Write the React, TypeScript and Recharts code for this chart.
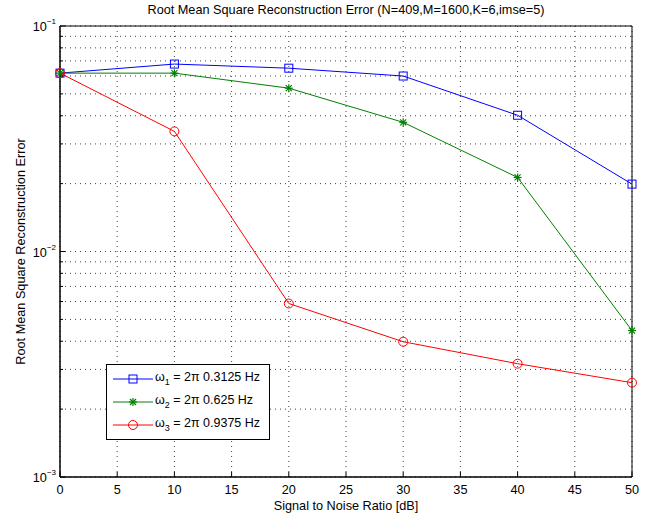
import { LineChart, Line, XAxis, YAxis, CartesianGrid, ReferenceArea, Legend } from 'recharts'

// SNR en dB
const snr = [0, 10, 20, 30, 40, 50]
const omega1 = [0.0618, 0.0678, 0.065, 0.06, 0.0402, 0.0199]
const omega2 = [0.0618, 0.0618, 0.053, 0.0374, 0.0213, 0.00446]
const omega3 = [0.0618, 0.0341, 0.00588, 0.00398, 0.00318, 0.00262]

const xTicks = [0, 5, 10, 15, 20, 25, 30, 35, 40, 45, 50]
const yTicks = [
  0.001, 0.002, 0.003, 0.004, 0.005, 0.006, 0.007, 0.008, 0.009,
  0.01, 0.02, 0.03, 0.04, 0.05, 0.06, 0.07, 0.08, 0.09, 0.1,
]

const seriesInfo = [
  { key: 'w1', sub: '1', label: ' = 2π 0.3125 Hz', color: '#0000ff', marker: 'square' },
  { key: 'w2', sub: '2', label: ' = 2π 0.625 Hz', color: '#008000', marker: 'star' },
  { key: 'w3', sub: '3', label: ' = 2π 0.9375 Hz', color: '#ff0000', marker: 'circle' },
]

const data = snr.map((s, i) => ({ snr: s, w1: omega1[i], w2: omega2[i], w3: omega3[i] }))

const FONT = '"Liberation Sans", Arial, Helvetica, sans-serif'
const FS = 12.7

function Marker({ cx, cy, type, color }: { cx: number; cy: number; type: string; color: string }) {
  if (type === 'square')
    return <rect x={cx - 4} y={cy - 4} width={8} height={8} fill="none" stroke={color} strokeWidth={1} />
  if (type === 'circle') return <circle cx={cx} cy={cy} r={4.5} fill="none" stroke={color} strokeWidth={1} />
  return (
    <g stroke={color} strokeWidth={1.2}>
      <line x1={cx - 4} y1={cy} x2={cx + 4} y2={cy} />
      <line x1={cx} y1={cy - 4} x2={cx} y2={cy + 4} />
      <line x1={cx - 3} y1={cy - 3} x2={cx + 3} y2={cy + 3} />
      <line x1={cx - 3} y1={cy + 3} x2={cx + 3} y2={cy - 3} />
    </g>
  )
}

const makeDot = (type: string, color: string) => (p: any) => (
  <Marker key={`${type}-${p.index}`} cx={p.cx} cy={p.cy} type={type} color={color} />
)

const isMajor = (v: number) => {
  const l = Math.log10(v)
  return Math.abs(l - Math.round(l)) < 1e-6
}

const BottomTick = (p: any) => (
  <g>
    <line x1={p.x} x2={p.x} y1={p.y} y2={p.y - 5} stroke="#000" />
    <text x={p.x} y={p.y + 17} textAnchor="middle" fontSize={FS} fontFamily={FONT} fill="#000">
      {p.payload.value}
    </text>
  </g>
)

const TopTick = (p: any) => <line x1={p.x} x2={p.x} y1={p.y} y2={p.y + 5} stroke="#000" />

const LeftTick = (p: any) => {
  const v = p.payload.value
  const major = isMajor(v)
  const exp = Math.round(Math.log10(v))
  return (
    <g>
      <line x1={p.x} x2={p.x + (major ? 5 : 3)} y1={p.y} y2={p.y} stroke="#000" />
      {major && (
        <text x={p.x - 4} y={p.y + 5} textAnchor="end" fontSize={FS} fontFamily={FONT} fill="#000">
          10
          <tspan dy={-7} fontSize={8}>
            {'\u2212' + Math.abs(exp)}
          </tspan>
        </text>
      )}
    </g>
  )
}

const RightTick = (p: any) => {
  const major = isMajor(p.payload.value)
  return <line x1={p.x} x2={p.x - (major ? 5 : 3)} y1={p.y} y2={p.y} stroke="#000" />
}

const LegendBox = () => (
  <div
    style={{
      border: '1px solid #000',
      background: '#fff',
      width: 162,
      height: 72,
      boxSizing: 'content-box',
      fontFamily: FONT,
      fontSize: 12.5,
      paddingTop: 2,
    }}
  >
    {seriesInfo.map((s) => (
      <div key={s.key} style={{ display: 'flex', alignItems: 'center', height: 23 }}>
        <svg width={48} height={14} style={{ marginLeft: 6 }}>
          <line x1={0} x2={40} y1={7} y2={7} stroke={s.color} />
          <Marker cx={20} cy={7} type={s.marker} color={s.color} />
        </svg>
        <span style={{ marginLeft: -6, whiteSpace: 'nowrap' }}>
          ω<sub style={{ fontSize: 9 }}>{s.sub}</sub>
          {s.label}
        </span>
      </div>
    ))}
  </div>
)

export default function App() {
  return (
    <div style={{ position: 'absolute', left: 0, top: 0, width: 650, height: 516, background: '#fff' }}>
      <div
        style={{
          position: 'absolute',
          left: 60,
          width: 572,
          top: 3,
          textAlign: 'center',
          fontFamily: FONT,
          fontSize: FS,
        }}
      >
        Root Mean Square Reconstruction Error (N=409,M=1600,K=6,imse=5)
      </div>
      <LineChart width={650} height={516} data={data} margin={{ top: 26, right: 18, left: 0, bottom: 0 }}>
        <CartesianGrid stroke="#444" strokeDasharray="1 4" />
        <XAxis
          dataKey="snr"
          type="number"
          domain={[0, 50]}
          ticks={xTicks}
          interval={0}
          height={39}
          tickSize={0}
          tickMargin={0}
          tickLine={false}
          axisLine={{ stroke: '#000' }}
          tick={BottomTick}
          label={{
            value: 'Signal to Noise Ratio [dB]',
            position: 'insideBottom',
            offset: 6,
            style: { fontFamily: FONT, fontSize: FS, fill: '#000' },
          }}
        />
        <XAxis
          xAxisId="top"
          orientation="top"
          dataKey="snr"
          type="number"
          domain={[0, 50]}
          ticks={xTicks}
          interval={0}
          height={0}
          tickSize={0}
          tickMargin={0}
          tickLine={false}
          axisLine={false}
          tick={TopTick}
        />
        <YAxis
          type="number"
          scale="log"
          domain={[0.001, 0.1]}
          ticks={yTicks}
          interval={0}
          width={60}
          tickSize={0}
          tickMargin={0}
          tickLine={false}
          axisLine={{ stroke: '#000' }}
          tick={LeftTick}
          label={{
            value: 'Root Mean Square Reconstruction Error',
            angle: -90,
            position: 'insideLeft',
            offset: 20,
            style: { textAnchor: 'middle', fontFamily: FONT, fontSize: FS, fill: '#000' },
          }}
        />
        <YAxis
          yAxisId="right"
          orientation="right"
          type="number"
          scale="log"
          domain={[0.001, 0.1]}
          ticks={yTicks}
          interval={0}
          width={0}
          tickSize={0}
          tickMargin={0}
          tickLine={false}
          axisLine={false}
          tick={RightTick}
        />
        <ReferenceArea x1={0} x2={50} y1={0.001} y2={0.1} fill="none" stroke="#000" strokeWidth={1} ifOverflow="visible" />
        {seriesInfo.map((s) => (
          <Line
            key={s.key}
            dataKey={s.key}
            type="linear"
            stroke={s.color}
            strokeWidth={1}
            dot={makeDot(s.marker, s.color)}
            activeDot={false}
            isAnimationActive={false}
          />
        ))}
        <Legend
          layout="horizontal"
          verticalAlign="middle"
          align="center"
          content={LegendBox}
          wrapperStyle={{ left: 106, top: 364, width: 164 }}
        />
      </LineChart>
    </div>
  )
}
